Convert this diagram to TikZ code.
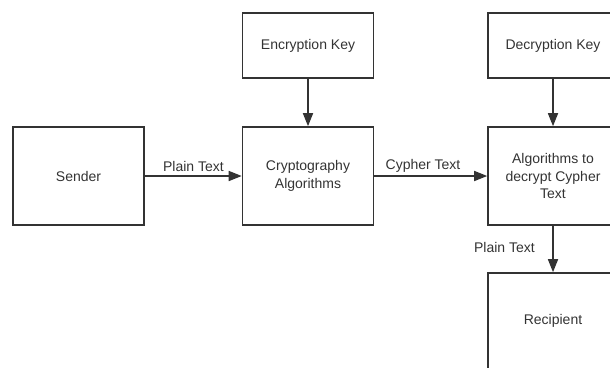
\documentclass[tikz,border=0pt]{standalone}
\usepackage{fontspec}
\setmainfont{Liberation Sans}
\usetikzlibrary{arrows.meta}
\definecolor{ink}{HTML}{333333}
\tikzset{
  box/.style={draw=ink, line width=1.6pt, rectangle, inner sep=0pt, align=center,
    text=ink, font=\fontsize{14}{17.5}\selectfont},
  conn/.style={draw=ink, line width=1.6pt, -{Triangle[length=13pt,width=10pt]}},
  lbl/.style={text=ink, font=\fontsize{14}{17.5}\selectfont, inner sep=0pt}
}
\begin{document}
\begin{tikzpicture}[x=1pt,y=-1pt]
\clip (0,0) rectangle (610,367);
\useasboundingbox (0,0) rectangle (610,367);
\node[box, minimum width=131pt, minimum height=98pt] (sender) at (78.5,176) {Sender};
\node[box, minimum width=131pt, minimum height=65pt] (enckey) at (308,45.5) {Encryption Key};
\node[box, minimum width=131pt, minimum height=98pt] (crypto) at (308,176) {Cryptography\\Algorithms};
\node[box, minimum width=130pt, minimum height=65pt] (deckey) at (553,45.5) {Decryption Key};
\node[box, minimum width=130pt, minimum height=98pt] (decrypt) at (553,176) {Algorithms to\\decrypt Cypher\\Text};
\node[box, minimum width=130pt, minimum height=96pt] (recip) at (553,321) {Recipient};
\draw[conn] (sender) -- (crypto);
\draw[conn] (enckey) -- (crypto);
\draw[conn] (crypto) -- (decrypt);
\draw[conn] (deckey) -- (decrypt);
\draw[conn] (decrypt) -- (recip);
\node[lbl] (l1) at (193.5,166) {Plain Text};
\node[lbl] (l2) at (423,166) {Cypher Text};
\node[lbl] (l3) at (504.5,247) {Plain Text};
\end{tikzpicture}
\end{document}
